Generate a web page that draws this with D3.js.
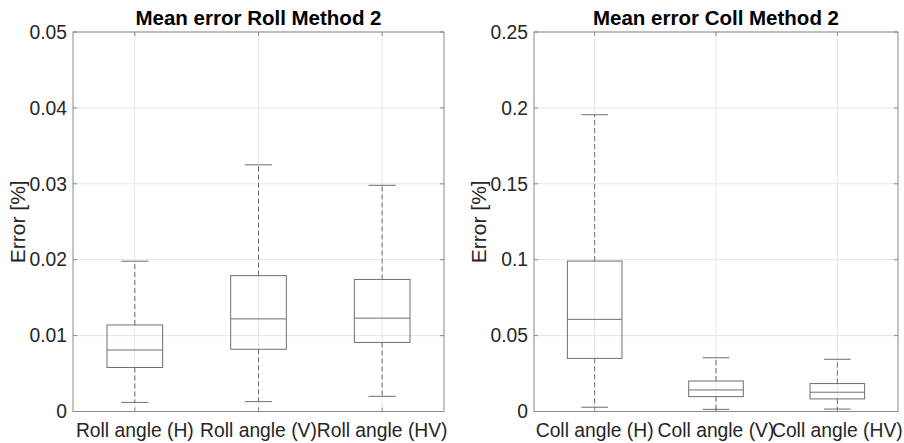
<!DOCTYPE html>
<html lang="en">
<head>
  <meta charset="utf-8">
  <title>Mean error boxplots</title>
  <style>
    body { margin: 0; background: #fff; }
    svg { display: block; font-family: "Liberation Sans", Arial, sans-serif; }
    .grid line { stroke: #e6e6e6; stroke-width: 1; }
    .tick-lbl { font-size: 19.3px; fill: #262626; }
    .ylab { font-size: 21px; fill: #262626; }
    .title { font-size: 20.5px; font-weight: bold; fill: #000; }
  </style>
</head>
<body>
<svg id="chart" width="904" height="443"></svg>

<script src="https://d3js.org/d3.v7.min.js"></script>
<script>
  // Box statistics: [lower whisker, q1, median, q3, upper whisker]
  var rollCategories = ["Roll angle (H)", "Roll angle (V)", "Roll angle (HV)"];
  var rollStats = [
    [0.0012, 0.0058, 0.0081, 0.0114, 0.0198],
    [0.0013, 0.0082, 0.0122, 0.0179, 0.0325],
    [0.0020, 0.0091, 0.0123, 0.0174, 0.0298]
  ];
  var rollTicks = [0, 0.01, 0.02, 0.03, 0.04, 0.05];
  var rollTickLabels = ["0", "0.01", "0.02", "0.03", "0.04", "0.05"];

  var collCategories = ["Coll angle (H)", "Coll angle (V)", "Coll angle (HV)"];
  var collStats = [
    [0.0028, 0.0350, 0.0607, 0.0991, 0.1955],
    [0.0014, 0.0098, 0.0142, 0.0201, 0.0354],
    [0.0016, 0.0083, 0.0127, 0.0184, 0.0344]
  ];
  var collTicks = [0, 0.05, 0.1, 0.15, 0.2, 0.25];
  var collTickLabels = ["0", "0.05", "0.1", "0.15", "0.2", "0.25"];

  var svg = d3.select("#chart");

  function drawPanel(opt) {
    var g = svg.append("g");
    var x = d3.scaleLinear().domain([0.5, opt.cats.length + 0.5]).range([opt.left, opt.right]);
    var y = d3.scaleLinear().domain([0, opt.ymax]).range([opt.bottom, opt.top]);
    var idx = d3.range(opt.cats.length);

    // grid
    var grid = g.append("g").attr("class", "grid");
    grid.selectAll(".gx").data(idx).enter().append("line")
      .attr("x1", d => x(d + 1)).attr("x2", d => x(d + 1))
      .attr("y1", opt.top).attr("y2", opt.bottom);
    grid.selectAll(".gy").data(opt.ticks).enter().append("line")
      .attr("x1", opt.left).attr("x2", opt.right)
      .attr("y1", d => y(d)).attr("y2", d => y(d));

    // frame
    g.append("rect")
      .attr("x", opt.left).attr("y", opt.top)
      .attr("width", opt.right - opt.left).attr("height", opt.bottom - opt.top)
      .attr("fill", "none").attr("stroke", "#8a8a8a").attr("stroke-width", 1);

    // inward ticks
    var tk = g.append("g").attr("stroke", "#8a8a8a");
    opt.ticks.forEach(function(t) {
      tk.append("line").attr("x1", opt.left).attr("x2", opt.left + 4).attr("y1", y(t)).attr("y2", y(t));
      tk.append("line").attr("x1", opt.right).attr("x2", opt.right - 4).attr("y1", y(t)).attr("y2", y(t));
    });
    idx.forEach(function(i) {
      tk.append("line").attr("x1", x(i + 1)).attr("x2", x(i + 1)).attr("y1", opt.bottom).attr("y2", opt.bottom - 4);
      tk.append("line").attr("x1", x(i + 1)).attr("x2", x(i + 1)).attr("y1", opt.top).attr("y2", opt.top + 4);
    });

    // boxes
    var boxW = 0.45, capW = 0.22;
    var col = "#6e6e6e";
    var bx = g.selectAll(".box").data(opt.stats).enter().append("g");
    bx.append("line") // upper whisker
      .attr("x1", (d, i) => x(i + 1)).attr("x2", (d, i) => x(i + 1))
      .attr("y1", d => y(d[3])).attr("y2", d => y(d[4]))
      .attr("stroke", col).attr("stroke-dasharray", "5,3");
    bx.append("line") // lower whisker
      .attr("x1", (d, i) => x(i + 1)).attr("x2", (d, i) => x(i + 1))
      .attr("y1", d => y(d[1])).attr("y2", d => y(d[0]))
      .attr("stroke", col).attr("stroke-dasharray", "5,3");
    bx.append("line")
      .attr("x1", (d, i) => x(i + 1 - capW / 2)).attr("x2", (d, i) => x(i + 1 + capW / 2))
      .attr("y1", d => y(d[4])).attr("y2", d => y(d[4])).attr("stroke", col);
    bx.append("line")
      .attr("x1", (d, i) => x(i + 1 - capW / 2)).attr("x2", (d, i) => x(i + 1 + capW / 2))
      .attr("y1", d => y(d[0])).attr("y2", d => y(d[0])).attr("stroke", col);
    bx.append("rect")
      .attr("x", (d, i) => x(i + 1 - boxW / 2))
      .attr("width", (d, i) => x(i + 1 + boxW / 2) - x(i + 1 - boxW / 2))
      .attr("y", d => y(d[3])).attr("height", d => y(d[1]) - y(d[3]))
      .attr("fill", "none").attr("stroke", col);
    bx.append("line")
      .attr("x1", (d, i) => x(i + 1 - boxW / 2)).attr("x2", (d, i) => x(i + 1 + boxW / 2))
      .attr("y1", d => y(d[2])).attr("y2", d => y(d[2])).attr("stroke", col);

    // labels
    g.selectAll(".yl").data(opt.ticks).enter().append("text")
      .attr("class", "tick-lbl")
      .attr("x", opt.left - 6).attr("y", d => y(d))
      .attr("dy", "0.35em").attr("text-anchor", "end")
      .text((d, i) => opt.tickLabels[i]);
    g.selectAll(".xl").data(opt.cats).enter().append("text")
      .attr("class", "tick-lbl")
      .attr("x", (d, i) => x(i + 1)).attr("y", opt.bottom + 25)
      .attr("text-anchor", "middle")
      .text(d => d);
    g.append("text").attr("class", "title")
      .attr("x", (opt.left + opt.right) / 2).attr("y", opt.top - 7)
      .attr("text-anchor", "middle").text(opt.title);
    g.append("text").attr("class", "ylab")
      .attr("transform", "translate(" + opt.ylabelX + "," + ((opt.top + opt.bottom) / 2) + ") rotate(-90)")
      .attr("text-anchor", "middle").text("Error [%]");
  }

  drawPanel({ left: 73, right: 444, top: 32, bottom: 411.5, ymax: 0.05,
              cats: rollCategories, stats: rollStats, ticks: rollTicks, tickLabels: rollTickLabels,
              title: "Mean error Roll Method 2", ylabelX: 25 });
  drawPanel({ left: 534, right: 898, top: 32, bottom: 411.5, ymax: 0.25,
              cats: collCategories, stats: collStats, ticks: collTicks, tickLabels: collTickLabels,
              title: "Mean error Coll Method 2", ylabelX: 486 });
</script>
</body>
</html>
